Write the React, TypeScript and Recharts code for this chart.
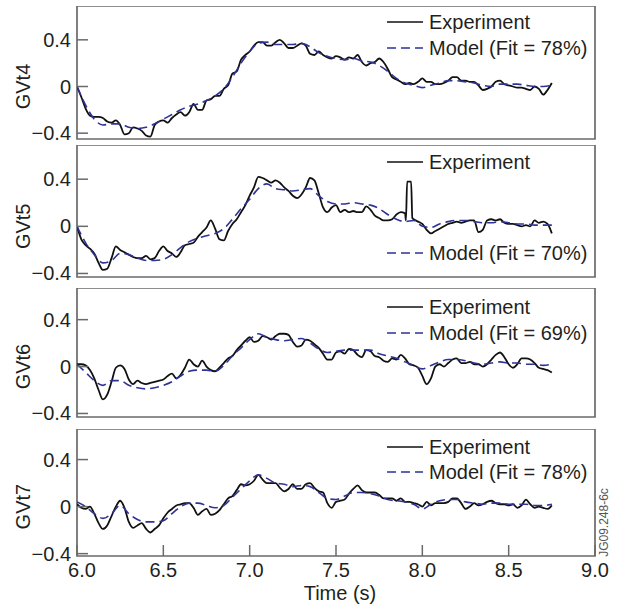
import React from 'react';
import { LineChart, Line, XAxis, YAxis, ReferenceArea, Legend } from 'recharts';

const FONT = '"Liberation Sans", Arial, Helvetica, sans-serif';
const TEXT = '#231f20';
const FRAME = '#6a6a6a';
const EXP_COLOR = '#111111';
const MODEL_COLOR = '#2e3396';

const xTicks = [6.0, 6.5, 7.0, 7.5, 8.0, 8.5, 9.0];
const yTicks = [-0.4, 0, 0.4];

const expTime = [
  6.0, 6.025, 6.05, 6.075, 6.1, 6.125, 6.15, 6.175, 6.2, 6.225,
  6.25, 6.275, 6.3, 6.325, 6.35, 6.375, 6.4, 6.425, 6.45, 6.475,
  6.5, 6.525, 6.55, 6.575, 6.6, 6.625, 6.65, 6.675, 6.7, 6.725,
  6.75, 6.775, 6.8, 6.825, 6.85, 6.875, 6.9, 6.925, 6.95, 6.975,
  7.0, 7.025, 7.05, 7.075, 7.1, 7.125, 7.15, 7.175, 7.2, 7.225,
  7.25, 7.275, 7.3, 7.325, 7.35, 7.375, 7.4, 7.425, 7.45, 7.475,
  7.5, 7.525, 7.55, 7.575, 7.6, 7.625, 7.65, 7.675, 7.7, 7.725,
  7.75, 7.775, 7.8, 7.825, 7.85, 7.875, 7.9, 7.925, 7.95, 7.975,
  8.0, 8.025, 8.05, 8.075, 8.1, 8.125, 8.15, 8.175, 8.2, 8.225,
  8.25, 8.275, 8.3, 8.325, 8.35, 8.375, 8.4, 8.425, 8.45, 8.475,
  8.5, 8.525, 8.55, 8.575, 8.6, 8.625, 8.65, 8.675, 8.7, 8.725,
  8.75,
];

const modelTime = [
  6.0, 6.05, 6.1, 6.15, 6.2, 6.25, 6.3, 6.35, 6.4, 6.45,
  6.5, 6.55, 6.6, 6.65, 6.7, 6.75, 6.8, 6.85, 6.9, 6.95,
  7.0, 7.05, 7.1, 7.15, 7.2, 7.25, 7.3, 7.35, 7.4, 7.45,
  7.5, 7.55, 7.6, 7.65, 7.7, 7.75, 7.8, 7.85, 7.9, 7.95,
  8.0, 8.05, 8.1, 8.15, 8.2, 8.25, 8.3, 8.35, 8.4, 8.45,
  8.5, 8.55, 8.6, 8.65, 8.7, 8.75,
];

// GVt4
const gvt4Exp = [
  0, -0.09, -0.19, -0.25, -0.26, -0.26, -0.27, -0.3, -0.31, -0.29,
  -0.33, -0.41, -0.4, -0.35, -0.36, -0.38, -0.42, -0.43, -0.33, -0.3,
  -0.29, -0.31, -0.27, -0.24, -0.22, -0.25, -0.22, -0.15, -0.2, -0.2,
  -0.12, -0.11, -0.08, -0.08, -0.02, 0.01, 0.11, 0.13, 0.23, 0.27,
  0.3, 0.35, 0.38, 0.38, 0.35, 0.35, 0.38, 0.4, 0.37, 0.33,
  0.33, 0.35, 0.37, 0.35, 0.28, 0.27, 0.3, 0.27, 0.25, 0.24,
  0.26, 0.25, 0.23, 0.25, 0.24, 0.27, 0.21, 0.18, 0.2, 0.21,
  0.24, 0.21, 0.15, 0.08, 0.06, 0.04, 0.02, 0.03, 0.02, 0.04,
  0.07, 0.04, 0.04, 0.02, 0.02, 0.03, 0.05, 0.08, 0.08, 0.05,
  0.05, 0.04, 0.04, 0.01, -0.03, -0.02, 0.0, 0.04, 0.05, 0.02,
  0.01, 0.0, -0.01, -0.01, -0.02, -0.03, 0.0, -0.02, -0.07, -0.03,
  0.03,
];
const gvt4Model = [
  0, -0.16, -0.28, -0.33, -0.32, -0.32, -0.35, -0.36, -0.35, -0.32,
  -0.28, -0.24, -0.2, -0.17, -0.15, -0.12, -0.08, -0.02, 0.08, 0.2,
  0.3, 0.37, 0.38, 0.36, 0.36, 0.36, 0.37, 0.34, 0.29, 0.26,
  0.24, 0.23, 0.24, 0.22, 0.21, 0.18, 0.13, 0.07, 0.03, 0.01,
  -0.01, 0.01, 0.03, 0.05, 0.05, 0.04, 0.03, 0.01, 0.0, 0.02,
  0.02, 0.02, 0.01, 0.0, 0.0, 0.01,
];

// GVt5
const gvt5Exp = [
  0, -0.11, -0.16, -0.19, -0.23, -0.31, -0.37, -0.36, -0.27, -0.17,
  -0.2, -0.22, -0.24, -0.26, -0.27, -0.27, -0.25, -0.28, -0.27, -0.21,
  -0.17, -0.21, -0.23, -0.26, -0.22, -0.16, -0.15, -0.14, -0.09, -0.05,
  -0.01, 0.05, -0.02, -0.11, -0.12, -0.04, 0.02, 0.06, 0.12, 0.18,
  0.26, 0.33, 0.42, 0.41, 0.39, 0.37, 0.39, 0.37, 0.33, 0.3,
  0.26, 0.24, 0.27, 0.33, 0.41, 0.39, 0.28, 0.16, 0.12, 0.16,
  0.18, 0.12, 0.14, 0.12, 0.13, 0.12, 0.12, 0.17, 0.14, 0.09,
  0.07, 0.05, 0.05, 0.06, 0.1, 0.12, 0.11, 0.38, 0.06, 0.04,
  0.02, -0.03, -0.06, -0.04, -0.02, 0.0, 0.02, 0.03, 0.04, 0.03,
  0.04, 0.05, 0.05, -0.05, -0.03, 0.05, 0.06, 0.05, 0.06, 0.03,
  0.02, 0.02, 0.01, 0.0, 0.01, 0.0, 0.05, 0.03, 0.04, 0.02,
  -0.06,
];
const gvt5SpikeTime = [7.905, 7.912, 7.935, 7.942];
const gvt5SpikeValues = [0.05, 0.38, 0.38, 0.07];
const gvt5Model = [
  0, -0.14, -0.24, -0.31, -0.29, -0.23, -0.24, -0.27, -0.29, -0.29,
  -0.28, -0.24, -0.18, -0.13, -0.1, -0.08, -0.06, -0.02, 0.06, 0.15,
  0.23, 0.32, 0.36, 0.32, 0.31, 0.3, 0.31, 0.32, 0.26, 0.21,
  0.19, 0.19, 0.2, 0.19, 0.18, 0.15, 0.1, 0.06, 0.04, 0.05,
  0.0, -0.01, 0.02, 0.04, 0.05, 0.05, 0.04, 0.03, 0.03, 0.04,
  0.03, 0.02, 0.02, 0.01, 0.01, 0.01,
];

// GVt6
const gvt6Exp = [
  0.02, 0.02, 0.01, -0.03, -0.1, -0.2, -0.28, -0.24, -0.13, -0.01,
  0.01, -0.02, -0.11, -0.15, -0.12, -0.14, -0.15, -0.14, -0.13, -0.12,
  -0.11, -0.08, -0.06, -0.1, -0.07, -0.01, 0.06, 0.02, 0.0, 0.05,
  0.0, -0.03, -0.04, -0.01, 0.03, 0.07, 0.09, 0.14, 0.18, 0.22,
  0.25, 0.21, 0.22, 0.26, 0.25, 0.23, 0.26, 0.28, 0.28, 0.27,
  0.21, 0.17, 0.18, 0.23, 0.22, 0.19, 0.16, 0.11, 0.06, 0.06,
  0.12, 0.13, 0.11, 0.15, 0.14, 0.1, 0.08, 0.14, 0.13, 0.09,
  0.08, 0.05, 0.04, 0.07, 0.06, 0.1, 0.07, 0.02, 0.01, -0.01,
  -0.08, -0.15, -0.1, 0.0, 0.02, 0.0, 0.03, 0.06, 0.07, 0.03,
  0.03, 0.04, 0.02, 0.02, 0.0, 0.02, 0.06, 0.1, 0.12, 0.08,
  0.02, -0.01, 0.02, 0.07, 0.07, 0.06, 0.03, -0.01, -0.02, -0.03,
  -0.05,
];
const gvt6Model = [
  0.02, -0.05, -0.12, -0.16, -0.12, -0.12, -0.16, -0.18, -0.19, -0.18,
  -0.16, -0.13, -0.08, -0.04, -0.03, -0.03, -0.04, 0.01, 0.09, 0.16,
  0.23, 0.28, 0.25, 0.23, 0.22, 0.23, 0.24, 0.2, 0.15, 0.12,
  0.13, 0.14, 0.14, 0.14, 0.14, 0.11, 0.09, 0.07, 0.04, 0.01,
  -0.02, 0.01, 0.04, 0.06, 0.06, 0.05, 0.03, 0.02, 0.03, 0.04,
  0.03, 0.03, 0.02, 0.02, 0.01, 0.02,
];

// GVt7
const gvt7Exp = [
  0.02, -0.01, -0.02, 0.0, -0.06, -0.14, -0.19, -0.16, -0.08, 0.0,
  0.05, -0.01, -0.13, -0.18, -0.16, -0.14, -0.19, -0.22, -0.19, -0.16,
  -0.1, -0.05, -0.02, 0.01, 0.02, 0.03, 0.03, -0.01, -0.07, -0.04,
  -0.02, -0.07, -0.06, -0.03, 0.02, 0.07, 0.09, 0.14, 0.19, 0.18,
  0.19, 0.22, 0.27, 0.23, 0.2, 0.2, 0.2, 0.16, 0.13, 0.15,
  0.19, 0.15, 0.15, 0.19, 0.2, 0.16, 0.13, 0.12, 0.03, -0.01,
  0.04, 0.05, 0.06, 0.11, 0.15, 0.18, 0.14, 0.12, 0.12, 0.12,
  0.1, 0.07, 0.07, 0.07, 0.05, 0.07, 0.04, 0.04, 0.03, 0.02,
  0.0, 0.04, 0.01, 0.03, 0.03, 0.03, 0.04, 0.07, 0.07, 0.03,
  -0.02, 0.0, 0.03, 0.01, 0.02, 0.04, 0.05, 0.03, 0.02, 0.02,
  0.01, 0.02, -0.01, 0.01, 0.06, 0.02, -0.01, 0.0, -0.01, -0.02,
  0.01,
];
const gvt7Model = [
  0.04, 0.0, -0.06, -0.1, -0.06, 0.01, -0.06, -0.11, -0.13, -0.13,
  -0.12, -0.06, 0.0, 0.03, 0.03, 0.01, -0.01, 0.01, 0.08, 0.15,
  0.22, 0.27, 0.24, 0.2, 0.19, 0.17, 0.18, 0.17, 0.12, 0.07,
  0.06, 0.09, 0.12, 0.12, 0.11, 0.09, 0.06, 0.05, 0.04, 0.02,
  -0.02, 0.02, 0.05, 0.06, 0.06, 0.04, 0.03, 0.02, 0.03, 0.03,
  0.02, 0.02, 0.02, 0.01, 0.01, 0.02,
];

const panelNames = ['GVt4', 'GVt5', 'GVt6', 'GVt7'];
const fitPercents = [78, 70, 69, 78];

type Pt = { t: number; v: number };
const toPoints = (times: number[], values: number[]): Pt[] => times.map((t, i) => ({ t, v: values[i] }));
const mergePoints = (a: Pt[], b: Pt[]): Pt[] => [...a, ...b].sort((p, q) => p.t - q.t);

const panels = [
  {
    name: panelNames[0], fit: fitPercents[0],
    exp: toPoints(expTime, gvt4Exp), model: toPoints(modelTime, gvt4Model),
    top: 6, height: 133, domain: [-0.45, 0.69], rows: [15.7, 42.3],
  },
  {
    name: panelNames[1], fit: fitPercents[1],
    exp: mergePoints(toPoints(expTime, gvt5Exp), toPoints(gvt5SpikeTime, gvt5SpikeValues)),
    model: toPoints(modelTime, gvt5Model),
    top: 145, height: 132, domain: [-0.43, 0.69], rows: [16.7, 107.7],
  },
  {
    name: panelNames[2], fit: fitPercents[2],
    exp: toPoints(expTime, gvt6Exp), model: toPoints(modelTime, gvt6Model),
    top: 288, height: 129, domain: [-0.43, 0.67], rows: [18.7, 45.3],
  },
  {
    name: panelNames[3], fit: fitPercents[3],
    exp: toPoints(expTime, gvt7Exp), model: toPoints(modelTime, gvt7Model),
    top: 429, height: 127, domain: [-0.42, 0.66], rows: [17.7, 42.7],
  },
];

const fmtY = (v: number) => (v === 0 ? '0' : v < 0 ? '\u2212' + Math.abs(v).toFixed(1) : v.toFixed(1));

const YTick = (props: any) => {
  const { x, y, payload } = props;
  return (
    <g>
      <line x1={x} x2={x + 11} y1={y} y2={y} stroke={FRAME} strokeWidth={1.5} />
      <text x={x - 6} y={y + 7} textAnchor="end" fontSize={20} fontFamily={FONT} fill={TEXT}>
        {fmtY(payload.value)}
      </text>
    </g>
  );
};

const makeXTick = (showLabel: boolean) => (props: any) => {
  const { x, y, payload } = props;
  const v = payload.value as number;
  const shift = v === 6 ? 5 : 0;
  return (
    <g>
      <line x1={x} x2={x} y1={y} y2={y - 11} stroke={FRAME} strokeWidth={1.5} />
      {showLabel && (
        <text x={x + shift} y={y + 21} textAnchor="middle" fontSize={20} fontFamily={FONT} fill={TEXT}>
          {v.toFixed(1)}
        </text>
      )}
    </g>
  );
};

const makeYLabel = (name: string, domain: number[]) => (props: any) => {
  const vb = props.viewBox || {};
  const y0 = (vb.y ?? 0) + (vb.height ?? 0) * (domain[1] / (domain[1] - domain[0]));
  return (
    <text
      transform={`translate(30, ${y0}) rotate(-90)`}
      textAnchor="middle"
      fontSize={20}
      fontFamily={FONT}
      fill={TEXT}
    >
      {name}
    </text>
  );
};

const TimeLabel = (props: any) => {
  const vb = props.viewBox || {};
  const cx = (vb.x ?? 77) + (vb.width ?? 518) / 2 + 4;
  return (
    <text x={cx} y={(vb.y ?? 0) + 44} textAnchor="middle" fontSize={20} fontFamily={FONT} fill={TEXT}>
      Time (s)
    </text>
  );
};

const makeLegend = (rows: number[]) => (props: any) => {
  const payload = props.payload || [];
  return (
    <div style={{ position: 'relative', width: 619, height: 1 }}>
      {payload.map((entry: any, i: number) => (
        <div
          key={i}
          style={{
            position: 'absolute', left: 387, top: rows[i] - 12, height: 24,
            display: 'flex', alignItems: 'center', whiteSpace: 'nowrap',
          }}
        >
          <svg width={36} height={24} style={{ display: 'block' }}>
            <line
              x1={0} x2={36} y1={12} y2={12}
              stroke={entry.color}
              strokeWidth={1.5}
              strokeDasharray={entry.payload && entry.payload.strokeDasharray}
            />
          </svg>
          <span style={{ marginLeft: 6, fontSize: 20, lineHeight: '24px', fontFamily: FONT, color: TEXT }}>
            {entry.value}
          </span>
        </div>
      ))}
    </div>
  );
};

function Panel({ p, isLast }: { p: (typeof panels)[number]; isLast: boolean }) {
  const xAxisH = isLast ? 51 : 0;
  const bottomPad = isLast ? 0 : 10;
  const height = p.height + xAxisH + bottomPad;
  return (
    <div style={{ position: 'absolute', left: 0, top: p.top, width: 619, height }}>
      <LineChart width={619} height={height} margin={{ top: 0, right: 24, bottom: bottomPad, left: 0 }}>
        <XAxis
          type="number" dataKey="t" domain={[6, 9]} ticks={xTicks} interval={0} allowDataOverflow
          axisLine={false} tickLine={false} tickSize={0} tickMargin={0} height={xAxisH}
          tick={makeXTick(isLast)}
          label={isLast ? TimeLabel : undefined}
        />
        <YAxis
          type="number" domain={p.domain} ticks={yTicks} interval={0} allowDataOverflow width={77}
          axisLine={false} tickLine={false} tickSize={0} tickMargin={0}
          tick={YTick}
          label={makeYLabel(p.name, p.domain)}
        />
        <Line
          data={p.exp} dataKey="v" name="Experiment" type="monotone" stroke={EXP_COLOR}
          strokeWidth={1.8} dot={false} activeDot={false} isAnimationActive={false}
        />
        <Line
          data={p.model} dataKey="v" name={`Model (Fit = ${p.fit}%)`} type="monotone" stroke={MODEL_COLOR}
          strokeWidth={1.6} strokeDasharray="9 5" dot={false} activeDot={false} isAnimationActive={false}
        />
        <ReferenceArea
          x1={6} x2={9} y1={p.domain[0]} y2={p.domain[1]} fill="none" stroke={FRAME} strokeWidth={1.7}
          ifOverflow="visible"
        />
        <Legend
          layout="vertical" align="center" verticalAlign="middle"
          content={makeLegend(p.rows)}
          wrapperStyle={{ left: 0, top: 0, width: 619, height: 1 }}
        />
      </LineChart>
    </div>
  );
}

export default function App() {
  return (
    <div style={{ position: 'absolute', left: 0, top: 0, width: 619, height: 607, background: '#fff' }}>
      {panels.map((p, i) => (
        <Panel key={p.name} p={p} isLast={i === panels.length - 1} />
      ))}
      <svg
        style={{ position: 'absolute', left: 590, top: 480, overflow: 'visible' }}
        width={25} height={85}
      >
        <text
          transform="translate(18, 42.5) rotate(-90)" textAnchor="middle"
          fontSize={12} fontFamily={FONT} fill="#555"
        >
          JG09.248-6c
        </text>
      </svg>
    </div>
  );
}
